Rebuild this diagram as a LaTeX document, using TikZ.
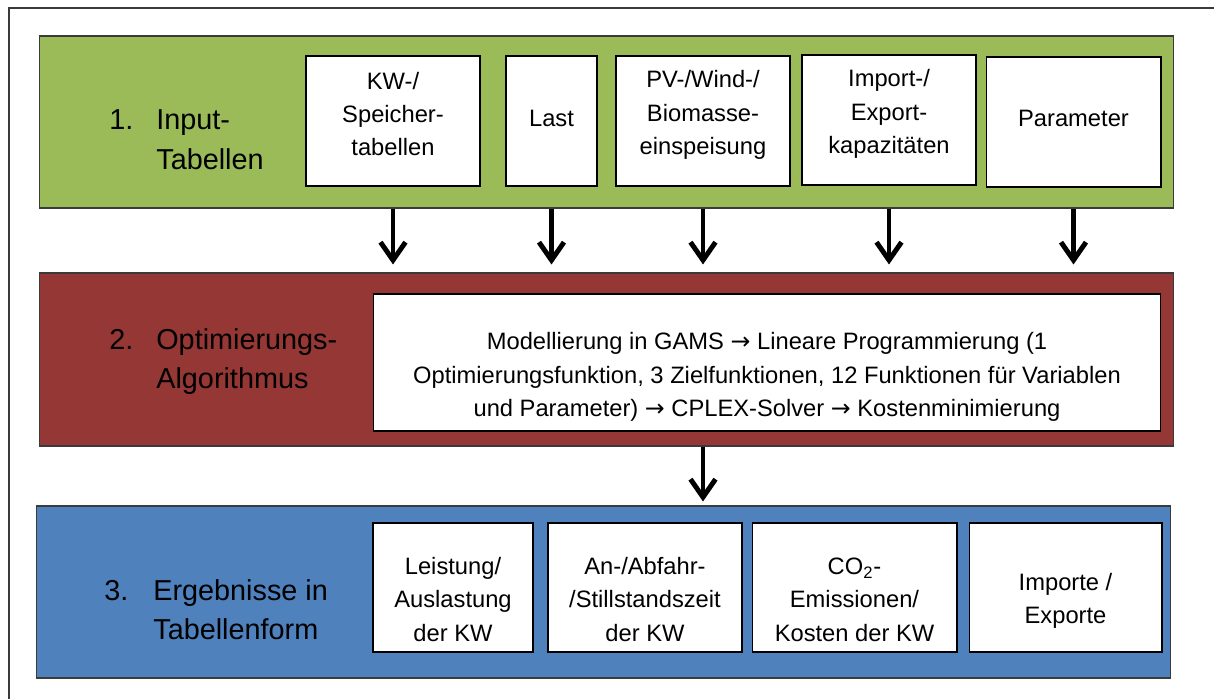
\documentclass[tikz,border=0pt]{standalone}
\usepackage{fontspec}
\setmainfont{Liberation Sans}
\newfontfamily\arrowfont{DejaVu Sans}
\newcommand{\flowto}{{\arrowfont →}}
\usetikzlibrary{arrows.meta}

\definecolor{inputgreen}{HTML}{9BBB59}
\definecolor{algored}{HTML}{953735}
\definecolor{resultblue}{HTML}{4F81BD}
\definecolor{edgegray}{HTML}{3A3A3A}

\tikzset{
  band/.style = {draw=edgegray, line width=0.6pt, inner sep=0pt},
  cellbox/.style = {draw=black, fill=white, line width=0.6pt, inner sep=0pt},
  celltext/.style = {align=center, inner sep=0pt, font=\fontsize{13.5}{19}\selectfont},
  steplabel/.style = {anchor=base west, inner sep=0pt, font=\fontsize{16.4}{22.7}\selectfont},
  flowarrow/.style = {line width=2.8pt, -{Straight Barb[length=3.6mm, width=5mm]}}
}

\begin{document}
\begin{tikzpicture}[x=0.02cm, y=-0.02cm]
\useasboundingbox (0,0) rectangle (1214,699);
\draw [edgegray, line width=0.8pt] (9,8) rectangle (1240,730);

% the three bands
\node [band, fill=inputgreen, minimum width=22.7cm, minimum height=3.44cm] (input) at (606.5,122) {};
\node [band, fill=algored, minimum width=22.7cm, minimum height=3.46cm] (algo) at (606.5,359.5) {};
\node [band, fill=resultblue, minimum width=22.7cm, minimum height=3.44cm] (result) at (603.5,592) {};

% step labels
\node [steplabel] (lbl1) at (109,130) {\begin{tabular}[t]{@{}p{0.94cm}@{}l@{}}1. & Input-\\ & Tabellen\end{tabular}};
\node [steplabel] (lbl2) at (109,349) {\begin{tabular}[t]{@{}p{0.94cm}@{}l@{}}2. & Optimierungs-\\ & Algorithmus\end{tabular}};
\node [steplabel] (lbl3) at (104,600) {\begin{tabular}[t]{@{}p{0.98cm}@{}l@{}}3. & Ergebnisse in\\ & Tabellenform\end{tabular}};

% input tables
\node [cellbox, minimum width=3.48cm, minimum height=2.6cm] (kw) at (393,121) {};
\node [celltext] (kwtxt) at (393,114) {KW-/\\Speicher-\\tabellen};
\node [cellbox, minimum width=1.82cm, minimum height=2.6cm] (last) at (551.5,121) {};
\node [celltext] (lasttxt) at (551.5,118.5) {Last};
\node [cellbox, minimum width=3.48cm, minimum height=2.6cm] (pv) at (703,121) {};
\node [celltext] (pvtxt) at (703,115) {PV-/Wind-/\\Biomasse-\\einspeisung};
\node [cellbox, minimum width=3.48cm, minimum height=2.6cm] (imex) at (889,120) {};
\node [celltext] (imextxt) at (889,114) {Import-/\\Export-\\kapazitäten};
\node [cellbox, minimum width=3.5cm, minimum height=2.6cm] (param) at (1073.5,122) {};
\node [celltext] (paramtxt) at (1073.5,118.5) {Parameter};

% optimisation
\node [cellbox, minimum width=15.76cm, minimum height=2.74cm] (gams) at (767,362.5) {};
\node [celltext] (gamstxt) at (767,377) {Modellierung in GAMS \flowto{} Lineare Programmierung (1\\Optimierungsfunktion, 3 Zielfunktionen, 12 Funktionen für Variablen\\und Parameter) \flowto{} CPLEX-Solver \flowto{} Kostenminimierung};

% result tables
\node [cellbox, minimum width=3.2cm, minimum height=2.58cm] (leist) at (453,587.5) {};
\node [celltext] (leisttxt) at (453,599.5) {Leistung/\\Auslastung\\der KW};
\node [cellbox, minimum width=3.88cm, minimum height=2.58cm] (anab) at (645,587.5) {};
\node [celltext] (anabtxt) at (645,599.5) {An-/Abfahr-\\/Stillstandszeit\\der KW};
\node [cellbox, minimum width=4.1cm, minimum height=2.58cm] (co2) at (854.5,587.5) {};
\node [celltext] (co2txt) at (854.5,599.5) {CO\textsubscript{2}-\\Emissionen/\\Kosten der KW};
\node [cellbox, minimum width=3.86cm, minimum height=2.58cm] (impexp) at (1065.5,587.5) {};
\node [celltext] (impexptxt) at (1065.5,601) {Importe /\\Exporte};

% arrows
\draw [flowarrow, shorten >=0.16cm] (kw.south |- input.south) -- (kw.south |- algo.north);
\draw [flowarrow, shorten >=0.16cm] (last.south |- input.south) -- (last.south |- algo.north);
\draw [flowarrow, shorten >=0.16cm] (pv.south |- input.south) -- (pv.south |- algo.north);
\draw [flowarrow, shorten >=0.16cm] (imex.south |- input.south) -- (imex.south |- algo.north);
\draw [flowarrow, shorten >=0.16cm] (param.south |- input.south) -- (param.south |- algo.north);
\draw [flowarrow, shorten >=0.08cm] (pv.south |- algo.south) -- (pv.south |- result.north);
\end{tikzpicture}
\end{document}
